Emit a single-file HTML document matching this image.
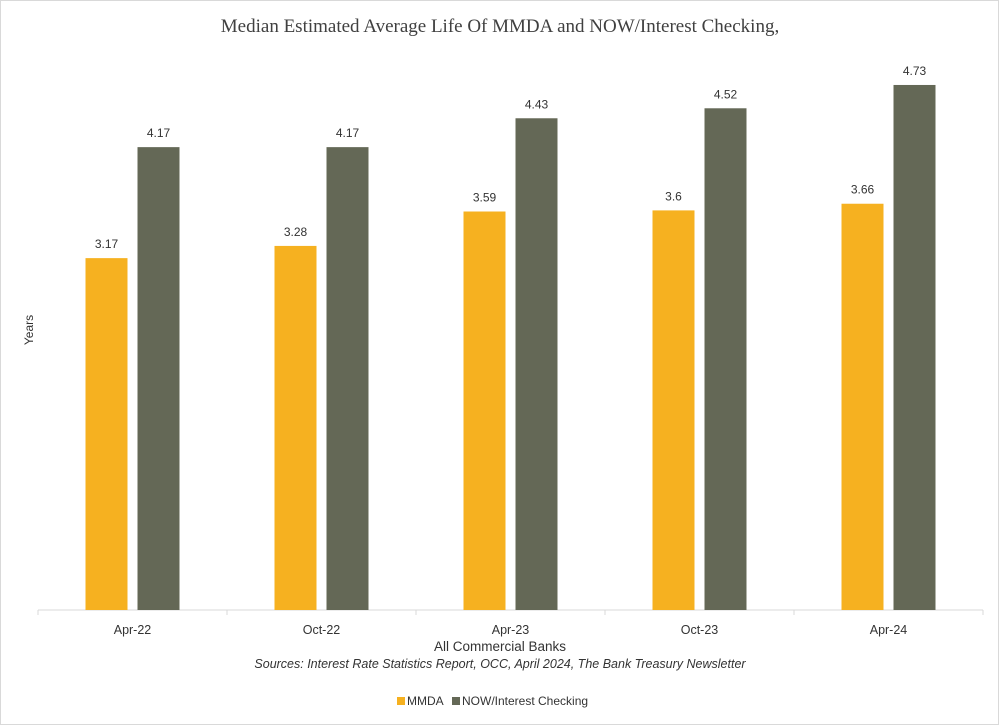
<!DOCTYPE html>
<html><head><meta charset="utf-8"><style>
body{margin:0;background:#fff;}
#wrap{position:relative;width:1000px;height:726px;overflow:hidden;}
svg text{font-family:"Liberation Sans",sans-serif;fill:#333;}
</style></head><body>
<div id="wrap">
<svg id="chart" width="1000" height="726" xmlns="http://www.w3.org/2000/svg">
<rect x="0.5" y="0.5" width="998" height="724" fill="#fff" stroke="#d9d9d9"/>
<text x="500" y="32" text-anchor="middle" font-size="19" style="font-family:'Liberation Serif',serif;fill:#404040">Median Estimated Average Life Of MMDA and NOW/Interest Checking,</text>
<text transform="translate(33,330) rotate(-90)" text-anchor="middle" font-size="12">Years</text>
<line x1="38" y1="610" x2="983" y2="610" stroke="#d9d9d9"/>
<g id="ticks"></g>
<g id="bars"></g>
<text x="500" y="651" text-anchor="middle" font-size="13.5">All Commercial Banks</text>
<text x="500" y="668" text-anchor="middle" font-size="12.5" font-style="italic">Sources: Interest Rate Statistics Report, OCC, April 2024, The Bank Treasury Newsletter</text>
<g>
<rect x="397" y="697" width="8" height="8" fill="#F6B120"/>
<text x="407" y="705" font-size="12">MMDA</text>
<rect x="452" y="697" width="8" height="8" fill="#646856"/>
<text x="462" y="705" font-size="12">NOW/Interest Checking</text>
</g>
</svg>
</div>
<script>
const categories = ["Apr-22","Oct-22","Apr-23","Oct-23","Apr-24"];
const mmda = [3.17,3.28,3.59,3.6,3.66];
const nowChecking = [4.17,4.17,4.43,4.52,4.73];
const mmdaLabels = ["3.17","3.28","3.59","3.6","3.66"];
const nowLabels = ["4.17","4.17","4.43","4.52","4.73"];

const NS="http://www.w3.org/2000/svg";
const x0=38, x1=983, base=610, pxPerUnit=111;
const bw=(x1-x0)/categories.length;
const y=v=>base-v*pxPerUnit;
const xc=i=>x0+bw*(i+0.5);
const bars=document.getElementById('bars'), ticks=document.getElementById('ticks');
function mk(tag,attrs,parent){const e=document.createElementNS(NS,tag);for(const k in attrs)e.setAttribute(k,attrs[k]);parent.appendChild(e);return e;}
for(let i=0;i<=categories.length;i++){
  const t=mk('line',{x1:x0+bw*i,x2:x0+bw*i,y1:base,y2:base+5,stroke:'#d9d9d9'},ticks);
  
  
}
categories.forEach((c,i)=>{
  const lab=mk('text',{x:xc(i),y:base+24,'text-anchor':'middle','font-size':'12.5'},ticks);
  lab.textContent=c;
  
  
  [[mmda,mmdaLabels,'#F6B120',-26,'mmda'],[nowChecking,nowLabels,'#646856',26,'now']].forEach(([vals,labs,col,off,nm])=>{
    const cx=xc(i)+off;
    const r=mk('rect',{x:cx-21,y:y(vals[i]),width:42,height:base-y(vals[i]),fill:col},bars);
    
    
    const t=mk('text',{x:cx,y:y(vals[i])-10,'text-anchor':'middle','font-size':'12'},bars);
    t.textContent=labs[i];
    
    
  });
});
</script>
</body></html>
